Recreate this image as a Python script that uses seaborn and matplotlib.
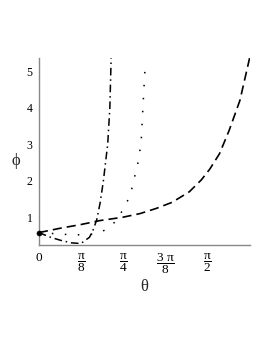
import numpy as np
import matplotlib
matplotlib.use("Agg")
import matplotlib.pyplot as plt
import seaborn as sns

# --- curve values (theta in rad, phi) ---
theta_dash = [0.0, 0.2, 0.39, 0.57, 0.78, 0.94, 1.09, 1.24, 1.40, 1.51, 1.59, 1.68, 1.77, 1.87, 1.96]
phi_dash = [0.58, 0.70, 0.80, 0.91, 1.0, 1.1, 1.24, 1.41, 1.70, 2.02, 2.32, 2.74, 3.38, 4.2, 5.36]

theta_dashdot = [0.0, 0.1, 0.2, 0.3, 0.39, 0.47, 0.5, 0.538, 0.57, 0.6, 0.64, 0.66, 0.672]
phi_dashdot = [0.58, 0.46, 0.37, 0.30, 0.28, 0.45, 0.62, 0.93, 1.4, 2.0, 3.0, 4.0, 5.36]

theta_dot = [0.0, 0.1, 0.2, 0.3, 0.39, 0.5, 0.58, 0.675, 0.733, 0.78, 0.826, 0.86, 0.89, 0.93, 0.953, 0.968, 0.984, 0.99]
phi_dot = [0.58, 0.56, 0.54, 0.52, 0.52, 0.54, 0.59, 0.77, 0.96, 1.2, 1.46, 1.73, 2.1, 2.6, 3.16, 4.02, 4.9, 5.2]

start_theta = [0.0]
start_phi = [0.58]

x_ticks = [0, np.pi / 8, np.pi / 4, 3 * np.pi / 8, np.pi / 2]
x_ticklabels = ["0", r"$\dfrac{\pi}{8}$", r"$\dfrac{\pi}{4}$", r"$\dfrac{3\ \pi}{8}$", r"$\dfrac{\pi}{2}$"]
y_ticks = [1, 2, 3, 4, 5]

sns.set_style("white")
plt.rcParams["font.family"] = ["Liberation Serif", "DejaVu Serif"]
plt.rcParams["mathtext.fontset"] = "custom"
plt.rcParams["mathtext.rm"] = "Liberation Serif"
plt.rcParams["mathtext.it"] = "Liberation Serif"

fig = plt.figure(figsize=(2.72, 3.52), dpi=100)
ax = fig.add_axes([0.143, 0.305, 0.776, 0.53])

sns.lineplot(x=theta_dash, y=phi_dash, ax=ax, color="black", lw=1.2,
             linestyle=(0, (5.5, 3)), sort=False)
sns.lineplot(x=theta_dashdot, y=phi_dashdot, ax=ax, color="black", lw=1.1,
             linestyle=(0, (5, 2.5, 1, 2.5)), sort=False)
sns.lineplot(x=theta_dot, y=phi_dot, ax=ax, color="black", lw=1.1,
             linestyle=(0, (1, 7.5)), sort=False)
sns.scatterplot(x=start_theta, y=start_phi, ax=ax, color="black", s=14,
                edgecolor="black", clip_on=False, zorder=5)

ax.set_xlim(0, 5 * np.pi / 8)
ax.set_ylim(0.25, 5.36)
ax.set_xticks(x_ticks)
ax.set_xticklabels(x_ticklabels)
ax.set_yticks(y_ticks)
ax.set_yticks([1.5, 2.5, 3.5, 4.5], minor=True)
ax.tick_params(axis="both", which="major", direction="out", length=3, width=0.8,
               pad=1.5, colors="black")
ax.tick_params(axis="y", which="major", labelsize=8.5)
ax.tick_params(axis="x", which="major", labelsize=9.5, pad=2.5)
ax.tick_params(axis="y", which="minor", direction="out", length=2, width=0.6)

for side in ["top", "right"]:
    ax.spines[side].set_visible(False)
for side in ["left", "bottom"]:
    ax.spines[side].set_color("#888888")
    ax.spines[side].set_linewidth(1.0)

ax.set_xlabel("θ", fontsize=12, labelpad=2)
ax.set_ylabel("ϕ", fontsize=12, rotation=0, va="center")
ax.yaxis.set_label_coords(-0.11, 0.45)

fig.savefig("out.png", dpi=100)
